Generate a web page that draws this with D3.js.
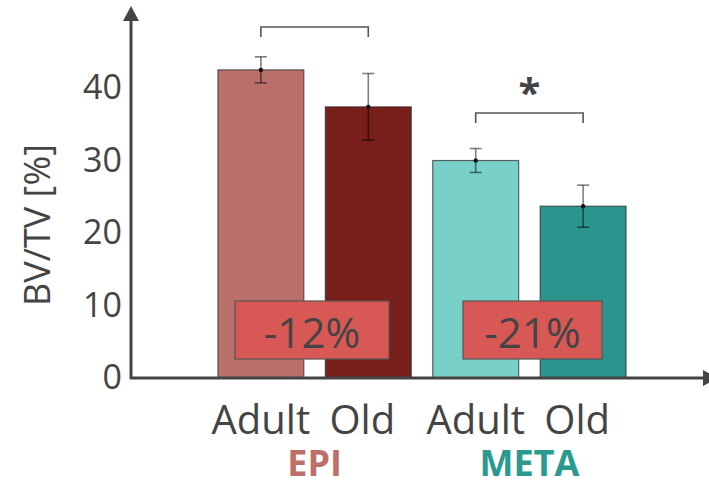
<!DOCTYPE html>
<html><head><meta charset="utf-8">
<script src="https://cdn.jsdelivr.net/npm/d3@7"></script>
<style>body{margin:0;background:#fff}svg{display:block}text{font-family:"Open Sans",sans-serif}</style>
</head><body><svg width="709" height="489"></svg>
<script>
const bars = ["EPI Adult","EPI Old","META Adult","META Old"];
const barLabels = ["Adult","Old","Adult","Old"];
const values = [42.5, 37.4, 30.0, 23.7];
const errors = [1.8, 4.6, 1.65, 2.9];
const colors = ["#b9706a","#781f1b","#79d0c9","#2b958d"];
const groups = ["EPI","META"];
const groupColors = ["#bd6f69","#2a998f"];
const changes = ["-12%","-21%"];
const signif = ["","*"];
const yTicks = [0,10,20,30,40];

const svg = d3.select("svg");
const y0 = 378;
const y = d3.scaleLinear().domain([0,40]).range([y0, 88]);
const x = d3.scaleBand().domain(bars).range([132,712]).paddingInner(0.2).paddingOuter(0.8);
const ink = "#444";

// axes
const yAxis = d3.axisLeft(y).tickValues(yTicks).tickSize(0).tickPadding(9);
const gy = svg.append("g").attr("transform","translate(131,0)").call(yAxis);
gy.select(".domain").remove();
gy.selectAll("text").attr("font-size",34).attr("fill",ink).attr("font-family","Open Sans");

// bars
svg.selectAll("rect.bar").data(values).join("rect").attr("class","bar")
  .attr("x",(d,i)=>x(bars[i])).attr("width",x.bandwidth())
  .attr("y",d=>y(d)).attr("height",d=>y0-y(d))
  .attr("fill",(d,i)=>colors[i]).attr("stroke","#2a2a2a").attr("stroke-opacity",0.7).attr("stroke-width",1.2);

// error bars
const eb = svg.selectAll("g.err").data(values).join("g").attr("class","err");
eb.append("line").attr("x1",(d,i)=>x(bars[i])+x.bandwidth()/2).attr("x2",(d,i)=>x(bars[i])+x.bandwidth()/2)
  .attr("y1",(d,i)=>y(d+errors[i])).attr("y2",(d,i)=>y(d-errors[i]))
  .attr("stroke","#000").attr("stroke-opacity",0.5).attr("stroke-width",1.6);
[1,-1].forEach(s=>{
  eb.append("line").attr("x1",(d,i)=>x(bars[i])+x.bandwidth()/2-6).attr("x2",(d,i)=>x(bars[i])+x.bandwidth()/2+6)
    .attr("y1",(d,i)=>y(d+s*errors[i])).attr("y2",(d,i)=>y(d+s*errors[i]))
    .attr("stroke","#000").attr("stroke-opacity",0.5).attr("stroke-width",1.6);
});
eb.append("circle").attr("cx",(d,i)=>x(bars[i])+x.bandwidth()/2).attr("cy",d=>y(d)).attr("r",2.2).attr("fill","#111");

// axis lines with arrows
svg.append("line").attr("x1",131).attr("x2",131).attr("y1",y0+1).attr("y2",18).attr("stroke",ink).attr("stroke-width",3);
svg.append("path").attr("d","M123,21 L131,6 L139,21 Z").attr("fill",ink);
svg.append("line").attr("x1",130).attr("x2",704).attr("y1",y0).attr("y2",y0).attr("stroke",ink).attr("stroke-width",3);
svg.append("path").attr("d","M703,370 L718,378 L703,386 Z").attr("fill",ink);

// y label
svg.append("text").attr("transform","translate(50,225) rotate(-90)").attr("text-anchor","middle")
  .attr("font-size",36).attr("fill",ink).text("BV/TV [%]");

// x labels
svg.selectAll("text.xl").data(barLabels).join("text").attr("class","xl")
  .attr("x",(d,i)=>x(bars[i])+x.bandwidth()/2 + (d==="Old"?-6:0)).attr("y",434).attr("text-anchor","middle")
  .attr("font-size",40).attr("fill",ink).text(d=>d);
svg.selectAll("text.gl").data(groups).join("text").attr("class","gl")
  .attr("x",(d,i)=>(x(bars[2*i])+x(bars[2*i+1])+x.bandwidth())/2).attr("y",476).attr("text-anchor","middle")
  .attr("font-size",36).attr("font-weight",700).attr("fill",(d,i)=>groupColors[i]).text(d=>d);

// brackets
const bracketY = [27, 113];
groups.forEach((g,i)=>{
  const xa = x(bars[2*i])+x.bandwidth()/2, xb = x(bars[2*i+1])+x.bandwidth()/2;
  const by = bracketY[i];
  svg.append("path").attr("d",`M${xa},${by+10} L${xa},${by} L${xb},${by} L${xb},${by+10}`)
    .attr("fill","none").attr("stroke","#555").attr("stroke-width",1.6);
  if(signif[i]) svg.append("text").attr("x",(xa+xb)/2).attr("y",by-6).attr("text-anchor","middle")
    .attr("font-size",40).attr("font-weight",700).attr("fill",ink).text(signif[i]);
});

// change boxes
const boxX = [[235,389],[463,602]];
changes.forEach((c,i)=>{
  svg.append("rect").attr("x",boxX[i][0]).attr("y",301).attr("width",boxX[i][1]-boxX[i][0]).attr("height",58)
    .attr("fill","#d85856").attr("stroke","#555").attr("stroke-width",1.2);
  svg.append("text").attr("x",(boxX[i][0]+boxX[i][1])/2).attr("y",348).attr("text-anchor","middle")
    .attr("font-size",42).attr("fill",ink).text(c);
});
</script></body></html>
